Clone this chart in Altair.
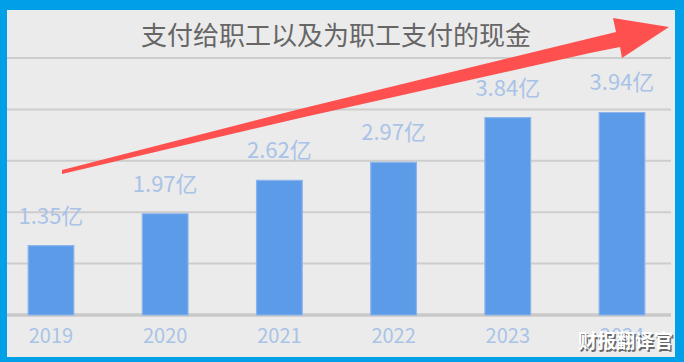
import altair as alt
import pandas as pd

# ---- data ----
years = ["2019", "2020", "2021", "2022", "2023", "2024"]
values = [1.35, 1.97, 2.62, 2.97, 3.84, 3.94]
labels = ["1.35亿", "1.97亿", "2.62亿", "2.97亿", "3.84亿", "3.94亿"]
grid_values = [1, 2, 3, 4, 5]
base_values = [0]
title_text = "支付给职工以及为职工支付的现金"
watermark_text = "财报翻译官"

df = pd.DataFrame({"year": years, "value": values, "label": labels})
grid_df = pd.DataFrame({"v": grid_values})
base_df = pd.DataFrame({"v": base_values})
title_df = pd.DataFrame({"t": [title_text]})
wm_df = pd.DataFrame({"t": [watermark_text]})
one = pd.DataFrame({"a": [0]})

FONT = "Noto Sans CJK SC"
W, H = 684, 362

x_scale = alt.Scale(domain=years, paddingInner=0.6, paddingOuter=0.2947, align=0.418)
y_scale = alt.Scale(domain=[0, 5], range=[315, 58], nice=False, zero=False)

X = alt.X("year:N", scale=x_scale, axis=None)

# ---- arrow decoration (pixel polygon turned into a custom symbol) ----
arrow_pts = [(62, 170), (300, 109), (616, 32), (613, 18), (669, 27),
             (622, 58), (620, 47), (590, 53), (300, 118), (62, 174)]
cx, cy, r = 365, 96, 310
arrow_path = "M" + " L".join(f"{(px - cx) / r:.4f},{(py - cy) / r:.4f}" for px, py in arrow_pts) + " Z"

bg = alt.Chart(one).mark_rect(color="#ebebeb").encode(
    x=alt.value(7), x2=alt.value(675), y=alt.value(10), y2=alt.value(357)
)

grid = alt.Chart(grid_df).mark_rule(color="#cdcdcd", strokeWidth=2).encode(
    y=alt.Y("v:Q", scale=y_scale, axis=None), x=alt.value(7), x2=alt.value(671)
)
base = alt.Chart(base_df).mark_rule(color="#c9c9c9", strokeWidth=3.5).encode(
    y=alt.Y("v:Q", scale=y_scale, axis=None), x=alt.value(7), x2=alt.value(671)
)

bars = alt.Chart(df).mark_bar(color="#5b9be8", stroke="#8cb3ec", strokeWidth=1.2).encode(
    x=X, y=alt.Y("value:Q", scale=y_scale, axis=None)
)

bar_labels = alt.Chart(df).mark_text(
    dy=-22, baseline="alphabetic", fontSize=22, color="#a9c3e7", font=FONT
).encode(x=X, y=alt.Y("value:Q", scale=y_scale, axis=None), text="label:N")

year_labels = alt.Chart(df).mark_text(
    baseline="alphabetic", fontSize=20, color="#a9c3e7", font=FONT
).encode(x=X, y=alt.value(343), text="year:N")

title = alt.Chart(title_df).mark_text(
    baseline="alphabetic", fontSize=26, color="#666666", font=FONT
).encode(x=alt.value(336), y=alt.value(45), text="t:N")

arrow = alt.Chart(one).mark_point(
    shape=arrow_path, size=(2 * r) ** 2, filled=True, fill="#ff5050", opacity=1, strokeWidth=0
).encode(x=alt.value(cx), y=alt.value(cy))

wm_shadow = alt.Chart(wm_df).mark_text(
    align="right", baseline="alphabetic", fontSize=19, fontWeight="bold", color="#333333",
    opacity=0.7, font=FONT
).encode(x=alt.value(674.5), y=alt.value(349.5), text="t:N")
wm = alt.Chart(wm_df).mark_text(
    align="right", baseline="alphabetic", fontSize=19, fontWeight="bold", color="#ffffff", font=FONT
).encode(x=alt.value(673), y=alt.value(348), text="t:N")

chart = alt.layer(
    bg, grid, base, bars, bar_labels, year_labels, title, arrow, wm_shadow, wm
).properties(
    width=W, height=H, autosize=alt.AutoSizeParams(type="none"), padding=0,
    background="#00a0e9"
).configure_view(strokeWidth=0)

chart.save("out.html", embed_options={"renderer": "svg", "actions": False})
